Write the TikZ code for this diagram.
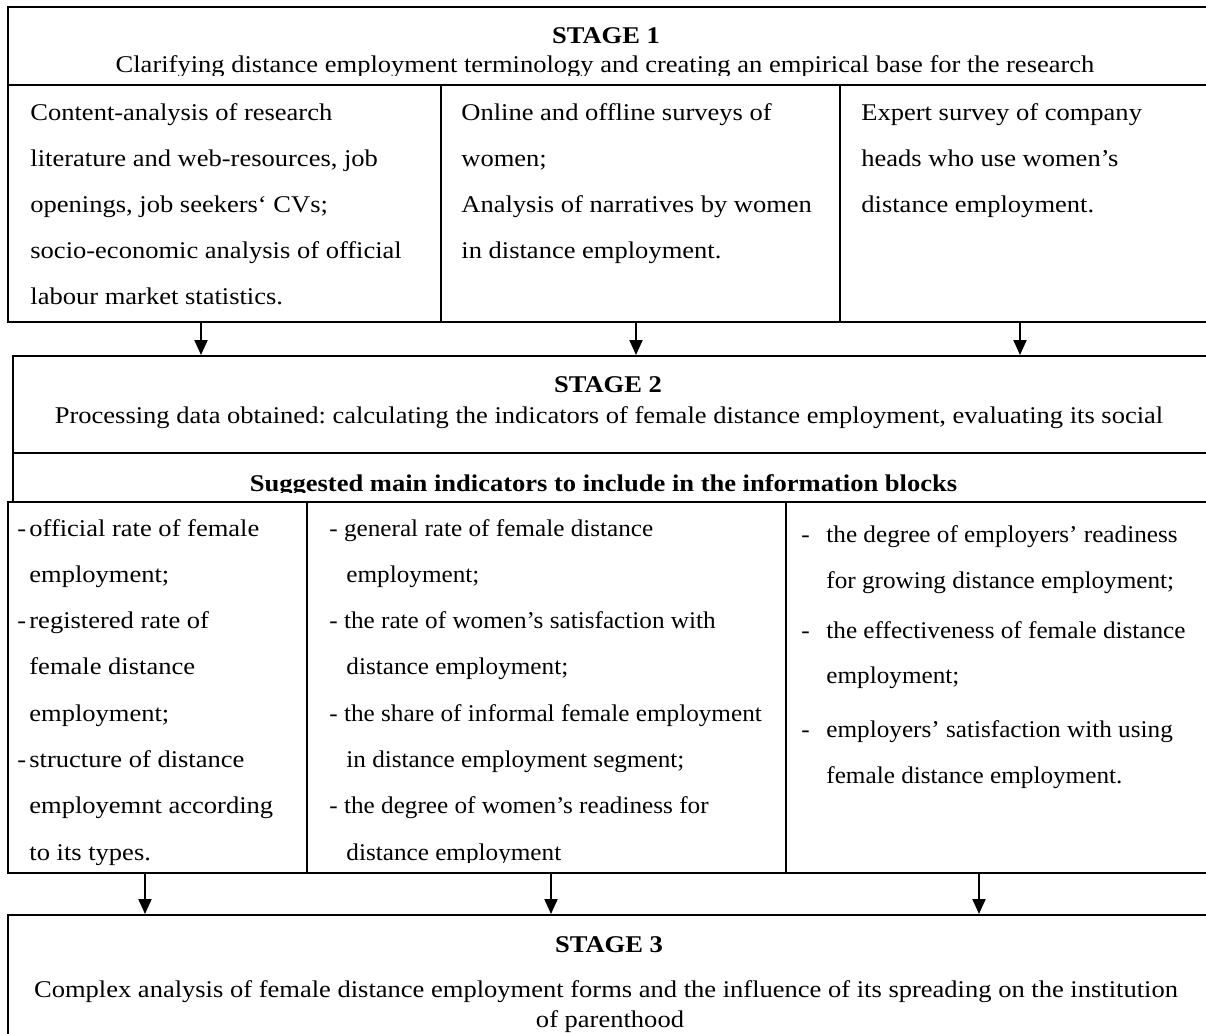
\documentclass[tikz,border=0pt]{standalone}
\usepackage{fontspec}
\setmainfont{Liberation Serif}[FakeStretch=1.105]
\newfontfamily\narrowserif{Liberation Serif}[FakeStretch=1.05]
\usetikzlibrary{arrows.meta,fit}
\frenchspacing
\begin{document}
\begin{tikzpicture}[x=0.5pt,y=-0.5pt,
  box/.style={draw, line width=1pt, inner sep=0pt},
  txt/.style={font=\fontsize{12}{14}\selectfont, inner sep=0pt, anchor=base west},
  ntxt/.style={font=\fontsize{12}{14}\selectfont\narrowserif, inner sep=0pt, anchor=base west},
  ctxt/.style={font=\fontsize{12}{14}\selectfont, inner sep=0pt, anchor=base},
  btxt/.style={font=\fontsize{12}{14}\selectfont\bfseries, inner sep=0pt, anchor=base},
  arr/.style={line width=1pt, -{Triangle[length=7.5pt,width=6.5pt]}}
]
\useasboundingbox (0,0) rectangle (1206,1034);
\clip (0,0) rectangle (1206,1034);

% ---------- STAGE 1 ----------
\node[box, fit={(8,7) (1214,85)}] (s1h) {};
\node[box, fit={(8,85) (441,322)}] (s1a) {};
\node[box, fit={(441,85) (840,322)}] (s1b) {};
\node[box, fit={(840,85) (1214,322)}] (s1c) {};
\node[btxt] (s1t) at (606,43) {STAGE 1};
\begin{scope}
  \clip (0,50) rectangle (1206,75.5);
  \node[ctxt] (s1d) at (605,72.5) {Clarifying distance employment terminology and creating an empirical base for the research};
\end{scope}
\foreach \t [count=\i from 0] in {{Content-analysis of research},{literature and web-resources, job},{openings, job seekers‘ CVs;},{socio-economic analysis of official},{labour market statistics.}}
  \node[txt] (pa\i) at (30,{120+46*\i}) {\t};
\foreach \t [count=\i from 0] in {{Online and offline surveys of},{women;},{Analysis of narratives by women},{in distance employment.}}
  \node[txt] (pb\i) at (461,{120+46*\i}) {\t};
\foreach \t [count=\i from 0] in {{Expert survey of company},{heads who use women’s},{distance employment.}}
  \node[txt] (pc\i) at (861,{120+46*\i}) {\t};

% ---------- STAGE 2 ----------
\node[box, fit={(13,356) (1214,453)}] (s2) {};
\node[box, fit={(13,453) (1214,502)}] (s2i) {};
\node[btxt] (s2t) at (608,392) {STAGE 2};
\node[ctxt] (s2d) at (609,423) {Processing data obtained: calculating the indicators of female distance employment, evaluating its social};
\begin{scope}
  \clip (0,460) rectangle (1206,492.5);
  \node[btxt] (s2s) at (603.5,491) {Suggested main indicators to include in the information blocks};
\end{scope}

% indicator columns
\node[box, fit={(8,502) (307,873)}] (ia) {};
\node[box, fit={(307,502) (786,873)}] (ib) {};
\node[box, fit={(786,502) (1214,873)}] (ic) {};

% column 1
\foreach \i in {0,2,5}
  \node[txt] (da\i) at (17,{536+46.3*\i}) {-};
\foreach \t [count=\i from 0] in {{official rate of female},{employment;},{registered rate of},{female distance},{employment;},{structure of distance},{employemnt according},{to its types.}}
  \node[txt] (ta\i) at (29,{536+46.3*\i}) {\t};

% column 2
\begin{scope}
  \clip (300,502) rectangle (786,862.5);
  \foreach \t [count=\i from 0] in {{- general rate of female distance},{- the rate of women’s satisfaction with},{- the share of informal female employment},{- the degree of women’s readiness for}}
    \node[ntxt] (tb\i) at (329,{536+46.3*2*\i}) {\t};
  \foreach \t [count=\i from 0] in {{employment;},{distance employment;},{in distance employment segment;},{distance employment}}
    \node[ntxt] (ub\i) at (346,{536+46.3*(2*\i+1)}) {\t};
\end{scope}

% column 3
\foreach \y/\t [count=\i from 0] in {542/{the degree of employers’ readiness},588/{for growing distance employment;},638/{the effectiveness of female distance},683/{employment;},737/{employers’ satisfaction with using},783/{female distance employment.}}
  \node[ntxt] (tc\i) at (826,\y) {\t};
\foreach \y [count=\i from 0] in {542,638,737}
  \node[ntxt] (dc\i) at (801,\y) {-};

% ---------- STAGE 3 ----------
\node[box, fit={(8,915) (1214,1050)}] (s3) {};
\node[btxt] (s3t) at (609,952) {STAGE 3};
\node[ctxt] (s3d) at (606,997) {Complex analysis of female distance employment forms and the influence of its spreading on the institution};
\node[ctxt] (s3e) at (610,1027) {of parenthood};

% ---------- arrows ----------
\coordinate (a1) at (201,322);
\coordinate (a2) at (636,322);
\coordinate (a3) at (1020,322);
\coordinate (b1) at (145,873);
\coordinate (b2) at (551,873);
\coordinate (b3) at (979,873);
\foreach \c in {a1,a2,a3}
  \draw[arr] (\c) -- (\c |- s2.north);
\foreach \c in {b1,b2,b3}
  \draw[arr] (\c) -- (\c |- s3.north);
\end{tikzpicture}
\end{document}
